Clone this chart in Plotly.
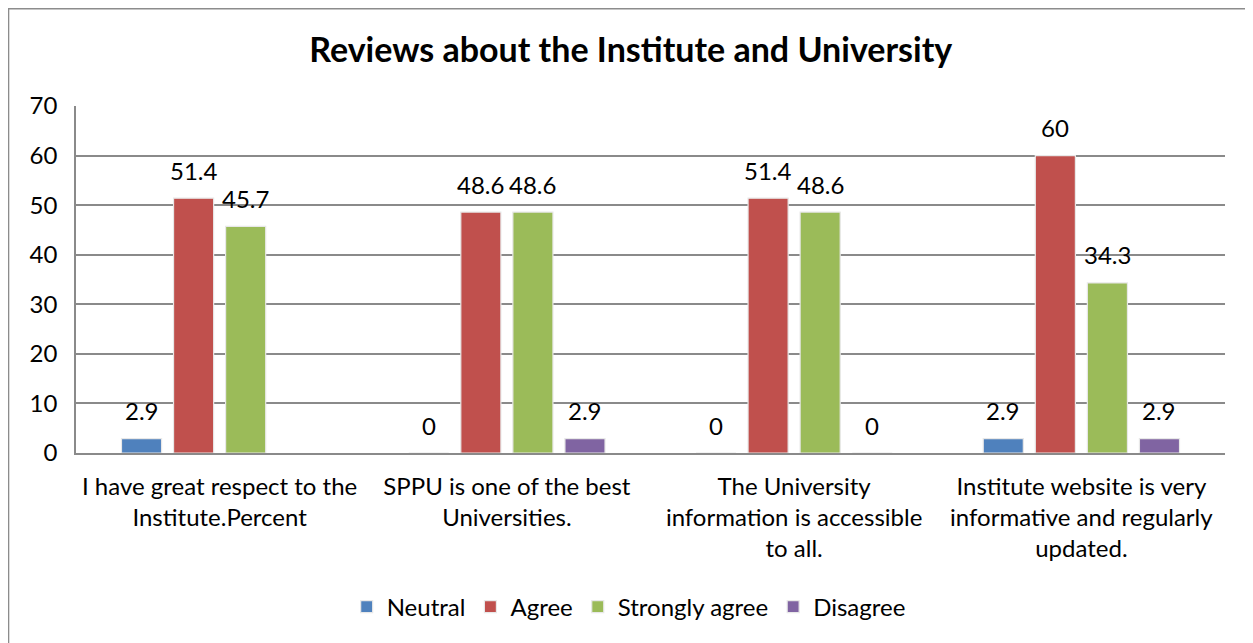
import plotly.graph_objects as go

categories = [
    "I have great respect to the<br>Institute.Percent",
    "SPPU is one of the best<br>Universities.",
    "The University<br>information is accessible<br>to all.",
    "Institute website is very<br>informative and regularly<br>updated.",
]
neutral = [2.9, 0, 0, 2.9]
agree = [51.4, 48.6, 51.4, 60]
strongly_agree = [45.7, 48.6, 48.6, 34.3]
disagree = [None, 2.9, 0, 2.9]

series_names = ["Neutral", "Agree", "Strongly agree", "Disagree"]
series_values = [neutral, agree, strongly_agree, disagree]
colors = ["#4F81BD", "#C0504D", "#9BBB59", "#8064A2"]

FONT = "Lato"
FS = 24

fig = go.Figure()
for name, vals, col in zip(series_names, series_values, colors):
    fig.add_trace(go.Bar(
        name=name, x=categories, y=vals,
        marker=dict(color=col, line=dict(color="rgba(232,232,232,1)", width=1.2)),
    ))

annotations = []
for i, vals in enumerate(series_values):
    for cat, v in zip(categories, vals):
        if v is None:
            continue
        annotations.append(dict(
            x=cat, y=v, xref="x", yref="y", text=f"{v:g}",
            showarrow=False, xshift=(i - 1.5) * 52, yshift=28,
            font=dict(family=FONT, size=FS, color="#000000"),
        ))

fig.update_layout(
    width=1253, height=643,
    margin=dict(l=68, r=36, t=98, b=198),
    paper_bgcolor="white", plot_bgcolor="white",
    barmode="group", bargap=0.275, bargroupgap=0.23,
    title=dict(text="<b>Reviews about the Institute and University</b>",
               x=0.497, xref="container", xanchor="center",
               y=0.935, yanchor="middle",
               font=dict(family=FONT, size=34, color="#000000")),
    font=dict(family=FONT, size=FS, color="#000000"),
    showlegend=True,
    legend=dict(orientation="h", x=0.481, xanchor="center", y=-0.444, yanchor="middle",
                font=dict(family=FONT, size=FS, color="#000000"),
                itemwidth=30, traceorder="normal"),
    annotations=annotations,
    shapes=[dict(type="rect", xref="paper", yref="paper",
                 x0=-0.0587, x1=1.06, y0=-0.6, y1=1.280,
                 line=dict(color="#8c8c8c", width=1.5), fillcolor="rgba(0,0,0,0)",
                 layer="below")],
)
fig.update_yaxes(range=[0, 70], dtick=10, showgrid=True, gridcolor="#8a8a8a", gridwidth=1.5,
                 showline=True, linecolor="#8a8a8a", linewidth=1.5,
                 zeroline=False, ticks="", ticklabelstandoff=12,
                 tickfont=dict(family=FONT, size=FS, color="#000000"))
fig.update_xaxes(showline=True, linecolor="#8a8a8a", linewidth=1.5, ticks="",
                 ticklabelstandoff=11,
                 tickfont=dict(family=FONT, size=FS, color="#000000"))

fig.write_html("out.html")
